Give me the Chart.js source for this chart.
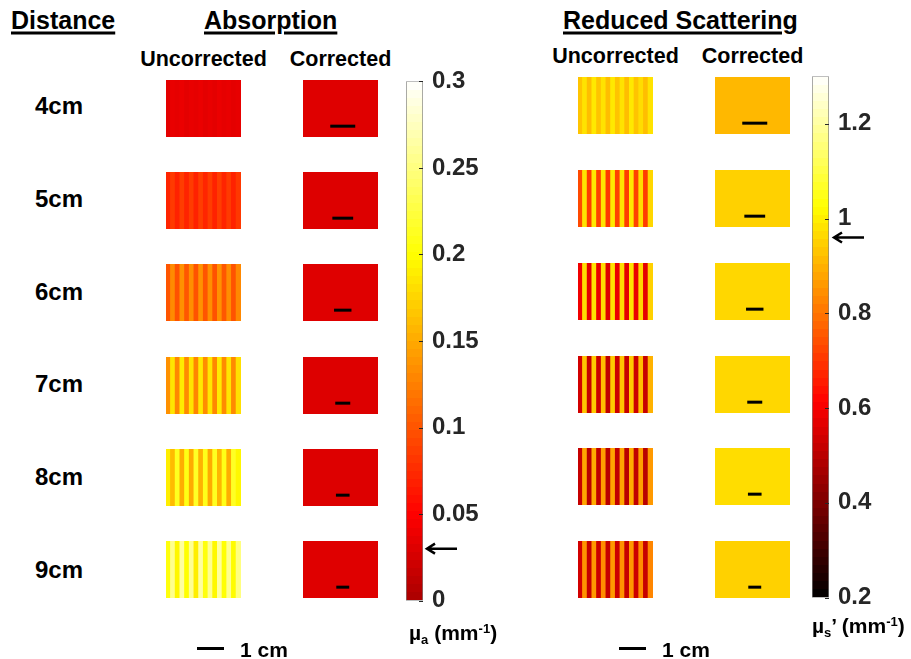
<!DOCTYPE html>
<html>
<head>
<meta charset="utf-8">
<script src="https://cdn.jsdelivr.net/npm/chart.js@4.4.0/dist/chart.umd.min.js"></script>
<style>
body { margin: 0; background: #fff; }
#fig { position: relative; width: 911px; height: 659px; overflow: hidden;
       font-family: Arial, "Liberation Sans", sans-serif; font-weight: bold; color: #000; }
.t { position: absolute; white-space: nowrap; line-height: 1; transform: translateY(-50%); }
.u { text-decoration: underline; text-decoration-thickness: 3px; text-underline-offset: 3px; }
.c { text-align: center; }
canvas { position: absolute; }
sub { font-size: 0.62em; vertical-align: -0.25em; }
sup { font-size: 0.62em; vertical-align: 0.55em; }
</style>
</head>
<body>
<div id="fig"></div>
<script>
// rows of the figure
const distances = ['4cm', '5cm', '6cm', '7cm', '8cm', '9cm'];
// width of each image in cm (sets the length of the 1 cm bar)
const fieldOfViewCm = [3.0, 3.6, 4.3, 5.0, 5.5, 5.8];

// absorption mu_a (mm-1), stripe values across each uncorrected image
const absUncorrected = [
    [0.034, 0.037, 0.035, 0.038, 0.034, 0.037, 0.035, 0.038, 0.034, 0.037, 0.034, 0.038, 0.035, 0.037, 0.034, 0.036],
    [0.071, 0.084, 0.070, 0.086, 0.071, 0.085, 0.070, 0.086, 0.072, 0.085, 0.070, 0.086, 0.071, 0.084, 0.070, 0.083],
    [0.100, 0.132, 0.098, 0.135, 0.101, 0.134, 0.099, 0.136, 0.100, 0.134, 0.098, 0.135, 0.101, 0.133, 0.099, 0.130],
    [0.135, 0.185, 0.130, 0.188, 0.132, 0.184, 0.129, 0.187, 0.133, 0.186, 0.130, 0.188, 0.132, 0.185, 0.131, 0.182],
    [0.190, 0.160, 0.212, 0.152, 0.208, 0.150, 0.215, 0.155, 0.210, 0.150, 0.213, 0.157, 0.209, 0.152, 0.214, 0.195],
    [0.205, 0.255, 0.195, 0.262, 0.200, 0.258, 0.190, 0.263, 0.205, 0.257, 0.196, 0.262, 0.202, 0.256, 0.198, 0.250]
];
const absCorrected = [0.031, 0.030, 0.031, 0.030, 0.030, 0.031];

// reduced scattering mu_s' (mm-1)
const scatUncorrected = [
    [0.93, 0.98, 0.92, 0.99, 0.93, 0.98, 0.92, 0.99, 0.93, 0.98, 0.92, 0.99, 0.93, 0.97, 0.92, 0.98],
    [0.73, 0.98, 0.71, 0.99, 0.72, 0.98, 0.70, 0.99, 0.72, 0.98, 0.71, 0.99, 0.72, 0.97, 0.71, 0.96],
    [0.59, 0.97, 0.57, 0.98, 0.58, 0.97, 0.56, 0.98, 0.58, 0.97, 0.57, 0.98, 0.58, 0.96, 0.57, 0.95],
    [0.54, 0.93, 0.52, 0.94, 0.53, 0.92, 0.51, 0.94, 0.53, 0.93, 0.52, 0.94, 0.53, 0.92, 0.52, 0.90],
    [0.52, 0.88, 0.50, 0.89, 0.51, 0.87, 0.50, 0.88, 0.51, 0.88, 0.50, 0.89, 0.51, 0.87, 0.50, 0.86],
    [0.54, 0.85, 0.52, 0.86, 0.53, 0.84, 0.52, 0.86, 0.53, 0.85, 0.52, 0.86, 0.53, 0.84, 0.52, 0.83]
];
const scatCorrected = [0.91, 0.95, 0.96, 0.96, 0.97, 0.95];

// colour bars
const absRange = [0, 0.3];
const absTicks = [0, 0.05, 0.1, 0.15, 0.2, 0.25, 0.3];
const absTrue = 0.03;
const scatRange = [0.2, 1.3];
const scatTicks = [0.2, 0.4, 0.6, 0.8, 1, 1.2];
const scatTrue = 0.96;

const fig = document.getElementById('fig');

// matlab "hot" colormap
function clamp(v) { return Math.max(0, Math.min(1, v)); }
function hot(t) {
    t = clamp(t);
    const r = clamp(t / 0.375), g = clamp((t - 0.375) / 0.375), b = clamp((t - 0.75) / 0.25);
    return `rgb(${Math.round(r * 255)},${Math.round(g * 255)},${Math.round(b * 255)})`;
}
const absColor = v => hot(0.25 + 0.75 * (v - absRange[0]) / (absRange[1] - absRange[0]));
const scatColor = v => hot((v - scatRange[0]) / (scatRange[1] - scatRange[0]));

function text(html, left, y, size, cls, width) {
    const d = document.createElement('div');
    d.className = 't ' + (cls || '');
    d.style.left = left + 'px';
    d.style.top = y + 'px';
    d.style.fontSize = size + 'px';
    if (width) d.style.width = width + 'px';
    d.innerHTML = html;
    fig.appendChild(d);
}

function makeCanvas(left, top, w, h) {
    const cv = document.createElement('canvas');
    cv.width = w; cv.height = h;
    cv.style.left = left + 'px';
    cv.style.top = top + 'px';
    fig.appendChild(cv);
    return cv;
}

const base = {
    responsive: false,
    animation: false,
    events: [],
    plugins: { legend: { display: false }, tooltip: { enabled: false } }
};

const PANEL_W = 75, PANEL_H = 57;

// one image panel on a cm axis: stripes are bars, the scale bar is a 1 cm line
function panel(left, top, values, colorFn, fov, scaleBar) {
    const cv = makeCanvas(left, top, PANEL_W, PANEL_H);
    const step = fov / values.length;
    const datasets = [{
        type: 'bar',
        data: values.map((v, i) => ({ x: (i + 0.5) * step, y: 1 })),
        backgroundColor: values.map(colorFn),
        borderWidth: 0,
        barThickness: PANEL_W / values.length + 0.5,
        order: 1
    }];
    if (scaleBar) {
        const c = 0.53 * fov;
        datasets.push({
            type: 'line',
            data: [{ x: c - 0.5, y: 0.19 }, { x: c + 0.5, y: 0.19 }],
            borderColor: '#000',
            borderWidth: 3,
            borderCapStyle: 'butt',
            pointRadius: 0,
            order: 0
        });
    }
    new Chart(cv, {
        type: 'bar',
        data: { datasets: datasets },
        options: Object.assign({}, base, {
            layout: { padding: 0 },
            scales: {
                x: { type: 'linear', display: false, offset: false, min: 0, max: fov },
                y: { display: false, min: 0, max: 1 }
            }
        })
    });
}

function colorbar(left, top, barH, range, ticks, colorFn, trueValue, gap) {
    const cv = makeCanvas(left, top - 24, 97, barH + 48);
    const arrow = {
        id: 'arrow',
        afterDraw(chart) {
            const ctx = chart.ctx, a = chart.chartArea, s = chart.scales.y;
            ctx.save();
            // small inner tick marks
            ctx.strokeStyle = '#262626';
            ctx.lineWidth = 1;
            ticks.forEach(v => {
                const y = Math.round(s.getPixelForValue(v)) + 0.5;
                ctx.beginPath();
                ctx.moveTo(a.right - 4, y);
                ctx.lineTo(a.right, y);
                ctx.stroke();
            });
            // arrow at the true value
            const y = s.getPixelForValue(trueValue);
            const x0 = a.right + gap;
            ctx.strokeStyle = '#000';
            ctx.lineWidth = 2.5;
            ctx.beginPath();
            ctx.moveTo(x0 + 31, y);
            ctx.lineTo(x0 + 1, y);
            ctx.moveTo(x0 + 9, y - 5);
            ctx.lineTo(x0 + 1, y);
            ctx.lineTo(x0 + 9, y + 5);
            ctx.stroke();
            ctx.restore();
        }
    };
    new Chart(cv, {
        type: 'bar',
        data: {
            labels: [''],
            datasets: [{
                data: [range],
                backgroundColor: ctx => {
                    const a = ctx.chart.chartArea;
                    if (!a) return null;
                    const g = ctx.chart.ctx.createLinearGradient(0, a.bottom, 0, a.top);
                    const n = 64;
                    for (let i = 0; i < n; i++) {
                        const c = colorFn(range[0] + (range[1] - range[0]) * (i + 0.5) / n);
                        g.addColorStop(i / n, c);
                        g.addColorStop((i + 1) / n, c);
                    }
                    return g;
                },
                borderColor: '#808080',
                borderWidth: 1,
                borderSkipped: false,
                barPercentage: 1,
                categoryPercentage: 1
            }]
        },
        options: Object.assign({}, base, {
            layout: { padding: { top: 15, bottom: 15, left: 0, right: 0 } },
            scales: {
                x: { type: 'category', display: false, offset: true },
                y: {
                    position: 'right',
                    min: range[0],
                    max: range[1],
                    grid: { display: false, drawTicks: false, tickLength: 0 },
                    border: { display: false },
                    afterBuildTicks: s => { s.ticks = ticks.map(v => ({ value: v })); },
                    afterFit: s => { s.width = 80; },
                    ticks: {
                        padding: 9,
                        color: '#262626',
                        font: { family: 'Arial, "Liberation Sans"', size: 24, weight: 'bold' },
                        callback: v => String(v)
                    }
                }
            }
        }),
        plugins: [arrow]
    });
}

// headings
text('Distance', 11, 20, 25, 'u');
text('Absorption', 204, 20, 25, 'u');
text('Reduced Scattering', 563, 20, 25, 'u');
text('Uncorrected', 128, 60, 21.5, 'c', 151);
text('Corrected', 265, 60, 21.5, 'c', 151);
text('Uncorrected', 540, 57, 21.5, 'c', 151);
text('Corrected', 677, 57, 21.5, 'c', 151);

const absTop = [80, 172, 264, 357, 449, 541];
const scatTop = [77, 170, 263, 356, 448, 541];

distances.forEach((d, i) => {
    text(d, 35, 106 + i * 92.8, 24);
    panel(166, absTop[i], absUncorrected[i], absColor, fieldOfViewCm[i], false);
    panel(303, absTop[i], [absCorrected[i]], absColor, fieldOfViewCm[i], true);
    panel(578, scatTop[i], scatUncorrected[i], scatColor, fieldOfViewCm[i], false);
    panel(715, scatTop[i], [scatCorrected[i]], scatColor, fieldOfViewCm[i], true);
});

colorbar(406, 82, 518, absRange, absTicks, absColor, absTrue, 3);
colorbar(812, 77, 520, scatRange, scatTicks, scatColor, scatTrue, 4);

text('µ<sub>a</sub> (mm<sup>-1</sup>)', 409, 634, 21);
text('µ<sub>s</sub>’ (mm<sup>-1</sup>)', 812, 627, 21);

// 1 cm legends
[[197, 240], [619, 662]].forEach(([bx, tx]) => {
    const b = document.createElement('div');
    b.style.cssText = `position:absolute;left:${bx}px;top:647px;width:27px;height:3px;background:#000;`;
    fig.appendChild(b);
    text('1 cm', tx, 649, 21);
});
</script>
</body>
</html>
